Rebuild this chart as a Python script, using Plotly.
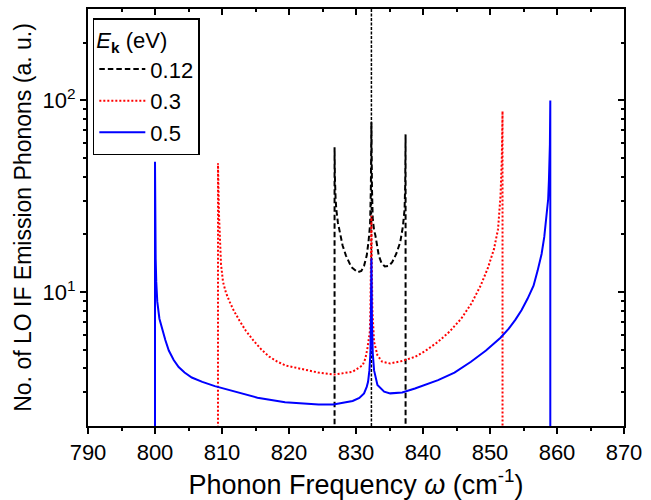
import math
import plotly.graph_objects as go

# ---- data ----
omega_012 = [826.8, 826.8, 826.85, 826.95, 827.06, 827.3, 827.55, 828.0, 828.5, 829.3,
             830.25, 830.8, 831.2, 831.6, 831.86, 832.1, 832.22, 832.3, 832.38, 832.5,
             832.7, 832.9, 833.4, 833.8, 834.3, 834.9, 835.4, 836.0, 836.6, 837.0,
             837.25, 837.34, 837.4, 837.4]
n_012 = [1.0, 57.0, 40.0, 31.0, 27.0, 23.0, 20.5, 17.5, 15.5, 13.5,
         12.7, 12.9, 13.7, 15.5, 18.2, 22.5, 35.0, 77.0, 35.0, 24.0,
         21.0, 19.7, 15.5, 14.2, 13.6, 13.7, 14.3, 15.8, 18.2, 22.0,
         27.0, 36.0, 66.5, 1.0]

omega_03 = [809.4, 809.4, 809.48, 809.56, 809.66, 809.85, 810.15, 810.59, 811.13, 811.76,
            812.6, 813.53, 814.81, 815.88, 817.01, 818.24, 819.46, 821.91, 824.37, 826.76,
            829.5, 831.0, 831.4, 831.7, 832.06, 832.15, 832.25, 832.3, 832.35, 832.45,
            832.7, 833.2, 833.9, 835.1, 836.9, 838.8, 840.3, 842.25, 843.97, 845.7,
            847.2, 848.6, 849.7, 850.6, 851.2, 851.57, 851.76, 851.87, 851.87]
n_03 = [1.0, 47.0, 34.0, 25.0, 18.9, 14.0, 11.3, 9.92, 8.91, 8.0,
        7.1, 6.3, 5.52, 5.01, 4.61, 4.34, 4.14, 3.95, 3.8, 3.71,
        3.84, 4.15, 4.5, 5.07, 6.19, 8.0, 15.0, 25.0, 15.0, 8.0,
        5.5, 4.68, 4.33, 4.24, 4.37, 4.59, 4.92, 5.5, 6.22, 7.26,
        8.69, 10.8, 13.4, 16.8, 21.3, 31.8, 49.3, 88.0, 1.0]

omega_05 = [800.0, 800.0, 800.04, 800.1, 800.19, 800.34, 800.66, 801.07, 801.54, 802.06,
            802.79, 803.53, 804.41, 805.49, 807.06, 808.93, 811.87, 815.29, 819.41, 824.41,
            826.62, 828.5, 829.5, 830.5, 831.2, 831.6, 831.8, 832.0, 832.15, 832.22,
            832.3, 832.38, 832.5, 832.7, 833.2, 834.2, 835.1, 836.9, 838.8, 842.25,
            844.7, 847.16, 849.4, 851.57, 852.8, 853.8, 854.7, 855.6, 856.5, 857.1,
            857.7, 858.1, 858.4, 858.68, 858.8, 858.94, 859.0, 859.0]
n_05 = [1.0, 47.8, 21.3, 14.9, 11.3, 8.91, 7.26, 6.37, 5.62, 4.95,
        4.42, 4.06, 3.8, 3.58, 3.4, 3.23, 3.02, 2.81, 2.66, 2.59,
        2.59, 2.65, 2.7, 2.8, 2.96, 3.2, 3.4, 3.9, 4.8, 7.0,
        15.0, 7.0, 4.8, 3.9, 3.27, 3.02, 2.96, 2.99, 3.14, 3.47,
        3.8, 4.33, 4.95, 5.78, 6.44, 7.18, 8.04, 9.22, 10.8, 12.9,
        15.8, 19.4, 24.0, 30.5, 38.8, 59.0, 100.0, 1.0]

series_names = ["0.12", "0.3", "0.5"]
lo_frequency = 832.3

x_range = [790, 870]
x_tick_step = 10
x_minor_step = 5
y_range_vals = [2, 300]
y_ticks = [10, 100]
y_tick_text = ["10<sup>1</sup>", "10<sup>2</sup>"]
y_minor = [3, 4, 5, 6, 7, 8, 9, 20, 30, 40, 50, 60, 70, 80, 90, 200]

y_range = [math.log10(v) for v in y_range_vals]

FONT = "Liberation Sans, Arial, sans-serif"

fig = go.Figure()
fig.add_trace(go.Scatter(x=omega_012, y=n_012, mode="lines", name=series_names[0],
                         line=dict(color="black", width=2, dash="5.5px,3px")))
fig.add_trace(go.Scatter(x=omega_03, y=n_03, mode="lines", name=series_names[1],
                         line=dict(color="red", width=2, dash="2px,2px")))
fig.add_trace(go.Scatter(x=omega_05, y=n_05, mode="lines", name=series_names[2],
                         line=dict(color="blue", width=2)))
# invisible trace so the mirrored (top/right) axes get drawn
fig.add_trace(go.Scatter(x=x_range, y=y_range_vals, xaxis="x2", yaxis="y2", mode="lines",
                         line=dict(width=0, color="rgba(0,0,0,0)"), showlegend=False,
                         hoverinfo="skip"))

fig.add_vline(x=lo_frequency, line=dict(color="black", width=1.5, dash="3px,1.5px"), layer="below")

tickfont = dict(family=FONT, size=22, color="black")
common = dict(tickwidth=2, tickcolor="black", showline=True, linewidth=2, linecolor="black",
              showgrid=False, zeroline=False)

fig.update_layout(
    width=651, height=500,
    margin=dict(l=88, r=19, t=9, b=74),
    paper_bgcolor="white", plot_bgcolor="white",
    font=dict(family=FONT, color="black"),
    showlegend=True,
    legend=dict(
        x=0.009, y=0.978, xanchor="left", yanchor="top",
        bgcolor="white", bordercolor="black", borderwidth=1.5,
        font=dict(family=FONT, size=22, color="black"),
        title=dict(text="<i>E</i><sub><b>k</b></sub> (eV)", font=dict(family=FONT, size=22)),
        tracegroupgap=0, itemwidth=46,
    ),
    xaxis=dict(
        range=x_range, tickmode="linear", tick0=x_range[0], dtick=x_tick_step,
        ticks="outside", ticklen=6, tickfont=tickfont,
        minor=dict(tick0=x_range[0], dtick=x_minor_step, ticks="outside", ticklen=3,
                   tickwidth=2, tickcolor="black", showgrid=False),
        title=dict(text="Phonon Frequency <i>ω</i> (cm<sup>-1</sup>)",
                   font=dict(family=FONT, size=27), standoff=2),
        **common,
    ),
    xaxis2=dict(
        range=x_range, overlaying="x", side="top", tickmode="linear", tick0=x_range[0],
        dtick=x_tick_step, ticks="inside", ticklen=6, showticklabels=False,
        minor=dict(tick0=x_range[0], dtick=x_minor_step, ticks="inside", ticklen=3,
                   tickwidth=2, tickcolor="black", showgrid=False),
        **common,
    ),
    yaxis=dict(
        type="log", range=y_range, tickmode="array", tickvals=y_ticks, ticktext=y_tick_text,
        ticks="outside", ticklen=6, tickfont=tickfont,
        minor=dict(tickmode="array", tickvals=y_minor, ticks="outside", ticklen=3,
                   tickwidth=2, tickcolor="black", showgrid=False),
        title=dict(text="No. of LO IF Emission Phonons (a. u.)",
                   font=dict(family=FONT, size=23), standoff=5),
        **common,
    ),
    yaxis2=dict(
        type="log", range=y_range, overlaying="y", side="right", tickmode="array",
        tickvals=y_ticks, ticks="inside", ticklen=6, showticklabels=False,
        minor=dict(tickmode="array", tickvals=y_minor, ticks="inside", ticklen=3,
                   tickwidth=2, tickcolor="black", showgrid=False),
        **common,
    ),
)

fig.write_html("out.html")
